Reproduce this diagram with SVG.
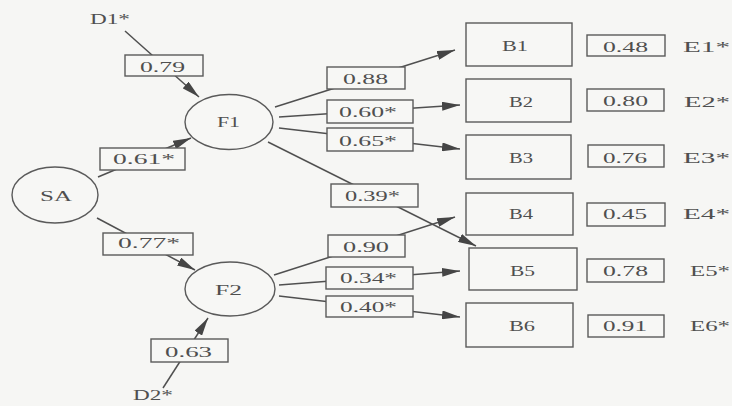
<svg xmlns="http://www.w3.org/2000/svg" width="732" height="406" viewBox="0 0 732 406">
<style>
.bg{fill:#f6f6f4}
.edge{fill:none;stroke:#505050;stroke-width:1.5;marker-end:url(#ah)}
.lbl{fill:#f7f7f5;stroke:#5a5a5a;stroke-width:1.4}
.node{fill:#f7f7f5;stroke:#5a5a5a;stroke-width:1.4}
text{font-family:"Liberation Serif","Times New Roman",serif;font-size:15px;fill:#4f4f4f}
</style>
<defs>
<marker id="ah" markerUnits="userSpaceOnUse" markerWidth="18" markerHeight="9" refX="18" refY="4.5" orient="auto">
<path d="M0,0 L18,4.5 L0,9 Z" fill="#454545"/>
</marker>
</defs>
<rect class="bg" x="0" y="0" width="732" height="406"/>
<g id="connectors">
<line class="edge" x1="125" y1="31" x2="199" y2="97"/>
<line class="edge" x1="98" y1="177" x2="191" y2="138"/>
<line class="edge" x1="97" y1="218" x2="195" y2="270"/>
<line class="edge" x1="163" y1="388" x2="208" y2="318"/>
<line class="edge" x1="275" y1="107" x2="455" y2="50"/>
<line class="edge" x1="279" y1="117" x2="460" y2="105"/>
<line class="edge" x1="279" y1="128" x2="460" y2="149"/>
<line class="edge" x1="268" y1="142" x2="476" y2="246"/>
<line class="edge" x1="274" y1="275" x2="455" y2="217"/>
<line class="edge" x1="279" y1="285" x2="460" y2="271"/>
<line class="edge" x1="279" y1="296" x2="460" y2="317"/>
<g id="edge-labels">
<rect class="lbl" x="125" y="55" width="78" height="21"/><text x="140" y="72" textLength="45" lengthAdjust="spacingAndGlyphs">0.79</text>
<rect class="lbl" x="100" y="148" width="85" height="22"/><text x="113" y="164" textLength="62" lengthAdjust="spacingAndGlyphs">0.61*</text>
<rect class="lbl" x="103" y="233" width="90" height="22"/><text x="118" y="248" textLength="62" lengthAdjust="spacingAndGlyphs">0.77*</text>
<rect class="lbl" x="151" y="339" width="77" height="23"/><text x="165" y="357" textLength="47" lengthAdjust="spacingAndGlyphs">0.63</text>
<rect class="lbl" x="327" y="67" width="78" height="22"/><text x="343" y="84" textLength="45" lengthAdjust="spacingAndGlyphs">0.88</text>
<rect class="lbl" x="327" y="100" width="86" height="23"/><text x="339" y="117" textLength="58" lengthAdjust="spacingAndGlyphs">0.60*</text>
<rect class="lbl" x="327" y="128" width="86" height="23"/><text x="339" y="146" textLength="58" lengthAdjust="spacingAndGlyphs">0.65*</text>
<rect class="lbl" x="331" y="184" width="87" height="23"/><text x="345" y="201" textLength="55" lengthAdjust="spacingAndGlyphs">0.39*</text>
<rect class="lbl" x="328" y="235" width="77" height="22"/><text x="343" y="252" textLength="46" lengthAdjust="spacingAndGlyphs">0.90</text>
<rect class="lbl" x="326" y="267" width="87" height="22"/><text x="340" y="283" textLength="57" lengthAdjust="spacingAndGlyphs">0.34*</text>
<rect class="lbl" x="326" y="296" width="87" height="21"/><text x="340" y="312" textLength="57" lengthAdjust="spacingAndGlyphs">0.40*</text>
</g>
</g>
<g id="D1"><text x="90" y="24" textLength="40" lengthAdjust="spacingAndGlyphs">D1*</text></g>
<g id="D2"><text x="133" y="400" textLength="40" lengthAdjust="spacingAndGlyphs">D2*</text></g>
<g id="SA"><ellipse class="node" cx="55" cy="195" rx="43" ry="28"/><text x="40" y="201" textLength="32" lengthAdjust="spacingAndGlyphs">SA</text></g>
<g id="F1"><ellipse class="node" cx="229" cy="122" rx="44" ry="27.5"/><text x="217" y="127" textLength="23" lengthAdjust="spacingAndGlyphs">F1</text></g>
<g id="F2"><ellipse class="node" cx="230" cy="289" rx="45" ry="27"/><text x="215" y="295" textLength="27" lengthAdjust="spacingAndGlyphs">F2</text></g>
<g id="B1"><rect class="node" x="466" y="23" width="106" height="43"/><text x="502" y="51" textLength="26" lengthAdjust="spacingAndGlyphs">B1</text></g>
<g id="B2"><rect class="node" x="466" y="79" width="105" height="43"/><text x="509" y="107" textLength="24" lengthAdjust="spacingAndGlyphs">B2</text></g>
<g id="B3"><rect class="node" x="466" y="135" width="105" height="44"/><text x="509" y="163" textLength="24" lengthAdjust="spacingAndGlyphs">B3</text></g>
<g id="B4"><rect class="node" x="466" y="193" width="107" height="42"/><text x="509" y="219" textLength="24" lengthAdjust="spacingAndGlyphs">B4</text></g>
<g id="B5"><rect class="node" x="469" y="248" width="108" height="42"/><text x="510" y="276" textLength="25" lengthAdjust="spacingAndGlyphs">B5</text></g>
<g id="B6"><rect class="node" x="466" y="303" width="107" height="44"/><text x="509" y="331" textLength="26" lengthAdjust="spacingAndGlyphs">B6</text></g>
<g id="E1"><rect class="lbl" x="587" y="35" width="78" height="21"/><text x="603" y="52" textLength="45" lengthAdjust="spacingAndGlyphs">0.48</text><text x="683" y="52" textLength="47" lengthAdjust="spacingAndGlyphs">E1*</text></g>
<g id="E2"><rect class="lbl" x="587" y="89" width="77" height="22"/><text x="603" y="106" textLength="45" lengthAdjust="spacingAndGlyphs">0.80</text><text x="684" y="107" textLength="46" lengthAdjust="spacingAndGlyphs">E2*</text></g>
<g id="E3"><rect class="lbl" x="588" y="145" width="76" height="22"/><text x="603" y="163" textLength="44" lengthAdjust="spacingAndGlyphs">0.76</text><text x="683" y="163" textLength="47" lengthAdjust="spacingAndGlyphs">E3*</text></g>
<g id="E4"><rect class="lbl" x="587" y="203" width="78" height="23"/><text x="603" y="219" textLength="44" lengthAdjust="spacingAndGlyphs">0.45</text><text x="683" y="219" textLength="47" lengthAdjust="spacingAndGlyphs">E4*</text></g>
<g id="E5"><rect class="lbl" x="587" y="259" width="77" height="23"/><text x="603" y="276" textLength="45" lengthAdjust="spacingAndGlyphs">0.78</text><text x="690" y="276" textLength="40" lengthAdjust="spacingAndGlyphs">E5*</text></g>
<g id="E6"><rect class="lbl" x="588" y="315" width="76" height="22"/><text x="603" y="331" textLength="44" lengthAdjust="spacingAndGlyphs">0.91</text><text x="690" y="331" textLength="40" lengthAdjust="spacingAndGlyphs">E6*</text></g>
</svg>
